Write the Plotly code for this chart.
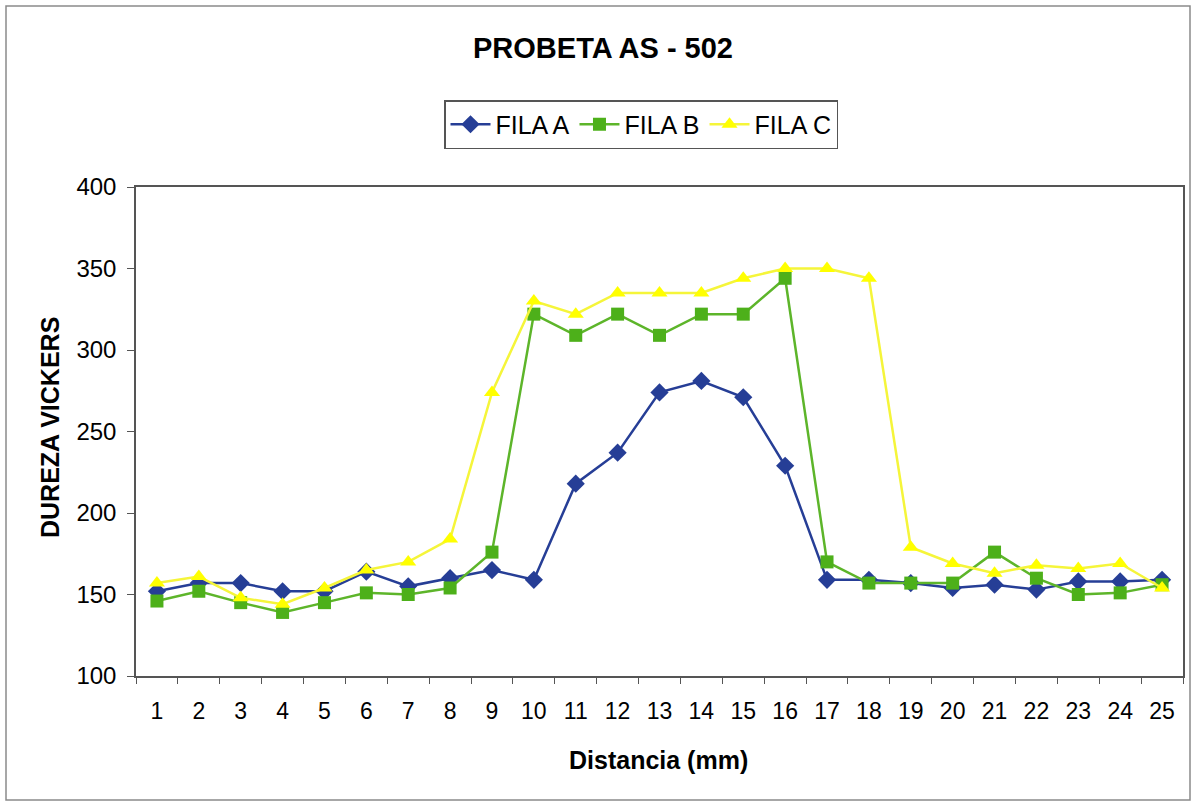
import plotly.graph_objects as go

distancia = [str(i) for i in range(1, 26)]
fila_a = [152, 157, 157, 152, 152, 164, 155, 160, 165, 159, 218, 237, 274, 281, 271, 229,
          159, 159, 157, 154, 156, 153, 158, 158, 159]
fila_b = [146, 152, 145, 139, 145, 151, 150, 154, 176, 322, 309, 322, 309, 322, 322, 344,
          170, 157, 157, 157, 176, 160, 150, 151, 156]
fila_c = [157, 161, 148, 144, 154, 165, 170, 184, 274, 330, 322, 335, 335, 335, 344, 350,
          350, 344, 179, 169, 163, 168, 166, 169, 154]

FONT = "Liberation Sans, Arial, sans-serif"

fig = go.Figure()
fig.add_trace(go.Scatter(x=distancia, y=fila_a, name="FILA A", mode="lines+markers",
                         line=dict(color="#263E96", width=2.5),
                         marker=dict(symbol="diamond", size=14, color="#263E96")))
fig.add_trace(go.Scatter(x=distancia, y=fila_b, name="FILA B", mode="lines+markers",
                         line=dict(color="#5DB52A", width=2.5),
                         marker=dict(symbol="square", size=13, color="#4DB01A")))
fig.add_trace(go.Scatter(x=distancia, y=fila_c, name="FILA C", mode="lines+markers",
                         line=dict(color="#F5F53A", width=2.5),
                         marker=dict(symbol="triangle-up", size=14, color="#FFFF00")))

L, R, T, B = 136, 13, 187, 130
W, H = 1196, 806
pw, ph = W - L - R, H - T - B

def px(x):
    return (x - L) / pw

def py(y):
    return (H - B - y) / ph

fig.update_layout(
    width=W, height=H,
    margin=dict(l=L, r=R, t=T, b=B),
    paper_bgcolor="white", plot_bgcolor="white",
    font=dict(family=FONT, size=22, color="black"),
    title=dict(text="<b>PROBETA AS - 502</b>", x=603 / W, xanchor="center",
               y=1 - 48 / H, yanchor="middle", font=dict(size=29, family=FONT)),
    showlegend=True,
    legend=dict(orientation="h", x=px(641), xanchor="center", y=py(100), yanchor="top",
                bordercolor="#555555", borderwidth=1.5, bgcolor="white",
                font=dict(size=25, family=FONT), itemwidth=40,
                tracegroupgap=0),
    xaxis=dict(type="category", range=[-0.5, 24.5], tickson="boundaries",
               ticks="outside", ticklen=6,
               tickcolor="#555555", showline=True, linecolor="#555555", linewidth=1.5,
               mirror=True, showgrid=False, zeroline=False,
               tickfont=dict(size=23, family=FONT), ticklabelstandoff=14),
    yaxis=dict(range=[100, 400], tickvals=[100, 150, 200, 250, 300, 350, 400],
               ticks="outside", ticklen=7, tickcolor="#555555", showline=True,
               linecolor="#555555", linewidth=1.5, mirror=True, showgrid=False,
               zeroline=False, tickfont=dict(size=24, family=FONT),
               ticklabelstandoff=6),
    annotations=[
        dict(text="<b>DUREZA VICKERS</b>", textangle=-90, xref="paper", yref="paper",
             x=px(50), y=py(428), xanchor="center", yanchor="middle", showarrow=False,
             font=dict(size=25, family=FONT)),
        dict(text="<b>Distancia (mm)</b>", xref="paper", yref="paper",
             x=px(658), y=py(760), xanchor="center", yanchor="middle", showarrow=False,
             font=dict(size=25, family=FONT)),
    ],
    shapes=[dict(type="rect", xref="paper", yref="paper",
                 x0=px(6), x1=px(1190), y0=py(800), y1=py(6),
                 line=dict(color="#8a8a8a", width=1.5), layer="below")],
)

fig.write_html("out.html")
